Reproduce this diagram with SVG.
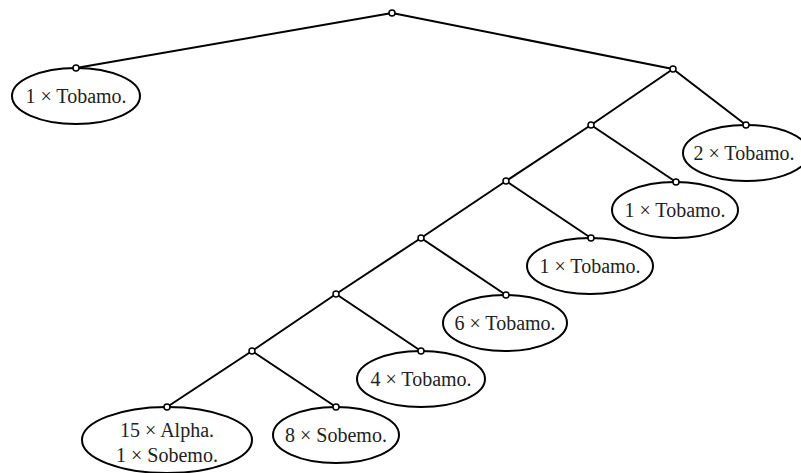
<svg xmlns="http://www.w3.org/2000/svg" width="801" height="473" viewBox="0 0 801 473">
  <style>
    .edge { stroke: #000; stroke-width: 2; fill: none; }
    .leaf { fill: #fff; stroke: #000; stroke-width: 2; }
    .dot { fill: #fff; stroke: #000; stroke-width: 1.5; }
    .lbl { font-family: "Liberation Serif", "Times New Roman", serif; font-size: 20px; fill: #222; text-anchor: middle; }
  </style>
  <rect width="801" height="473" fill="#fff"/>

  <!-- branches -->
  <g id="connectors">
    <line class="edge" x1="392" y1="13" x2="76" y2="68"/>
    <line class="edge" x1="392" y1="13" x2="673" y2="69"/>
    <line class="edge" x1="673" y1="69" x2="746" y2="125"/>
    <line class="edge" x1="673" y1="69" x2="591" y2="125"/>
    <line class="edge" x1="591" y1="125" x2="676" y2="182"/>
    <line class="edge" x1="591" y1="125" x2="506" y2="181"/>
    <line class="edge" x1="506" y1="181" x2="591" y2="238"/>
    <line class="edge" x1="506" y1="181" x2="421" y2="238"/>
    <line class="edge" x1="421" y1="238" x2="506" y2="295"/>
    <line class="edge" x1="421" y1="238" x2="336" y2="294"/>
    <line class="edge" x1="336" y1="294" x2="421" y2="351"/>
    <line class="edge" x1="336" y1="294" x2="252" y2="351"/>
    <line class="edge" x1="252" y1="351" x2="336" y2="407"/>
    <line class="edge" x1="252" y1="351" x2="167" y2="407"/>
  </g>

  <!-- internal branch points -->
  <g id="root"><circle class="dot" cx="392" cy="13" r="3"/></g>
  <g id="n1"><circle class="dot" cx="673" cy="69" r="3"/></g>
  <g id="n2"><circle class="dot" cx="591" cy="125" r="3"/></g>
  <g id="n3"><circle class="dot" cx="506" cy="181" r="3"/></g>
  <g id="n4"><circle class="dot" cx="421" cy="238" r="3"/></g>
  <g id="n5"><circle class="dot" cx="336" cy="294" r="3"/></g>
  <g id="n6"><circle class="dot" cx="252" cy="351" r="3"/></g>

  <!-- leaves -->
  <g id="leaf-tobamo-1a">
    <ellipse class="leaf" cx="76" cy="96" rx="64" ry="28"/>
    <circle class="dot" cx="76" cy="68" r="3"/>
    <text class="lbl" x="76" y="103">1 × Tobamo.</text>
  </g>
  <g id="leaf-tobamo-2">
    <ellipse class="leaf" cx="746" cy="153" rx="63" ry="28"/>
    <circle class="dot" cx="746" cy="125" r="3"/>
    <text class="lbl" x="744" y="160">2 × Tobamo.</text>
  </g>
  <g id="leaf-tobamo-1b">
    <ellipse class="leaf" cx="675" cy="210" rx="63" ry="28"/>
    <circle class="dot" cx="676" cy="182" r="3"/>
    <text class="lbl" x="675" y="217">1 × Tobamo.</text>
  </g>
  <g id="leaf-tobamo-1c">
    <ellipse class="leaf" cx="590" cy="266" rx="63" ry="28"/>
    <circle class="dot" cx="591" cy="238" r="3"/>
    <text class="lbl" x="590" y="273">1 × Tobamo.</text>
  </g>
  <g id="leaf-tobamo-6">
    <ellipse class="leaf" cx="505" cy="323" rx="62" ry="28"/>
    <circle class="dot" cx="506" cy="295" r="3"/>
    <text class="lbl" x="505" y="330">6 × Tobamo.</text>
  </g>
  <g id="leaf-tobamo-4">
    <ellipse class="leaf" cx="421" cy="379" rx="64" ry="28"/>
    <circle class="dot" cx="421" cy="351" r="3"/>
    <text class="lbl" x="421" y="386">4 × Tobamo.</text>
  </g>
  <g id="leaf-sobemo-8">
    <ellipse class="leaf" cx="336" cy="435" rx="63" ry="28"/>
    <circle class="dot" cx="336" cy="407" r="3"/>
    <text class="lbl" x="336" y="442">8 × Sobemo.</text>
  </g>
  <g id="leaf-alpha-sobemo">
    <ellipse class="leaf" cx="167" cy="440" rx="85" ry="33"/>
    <circle class="dot" cx="167" cy="407" r="3"/>
    <text class="lbl" x="167" y="437">15 × Alpha.</text>
    <text class="lbl" x="167" y="462">1 × Sobemo.</text>
  </g>
</svg>
